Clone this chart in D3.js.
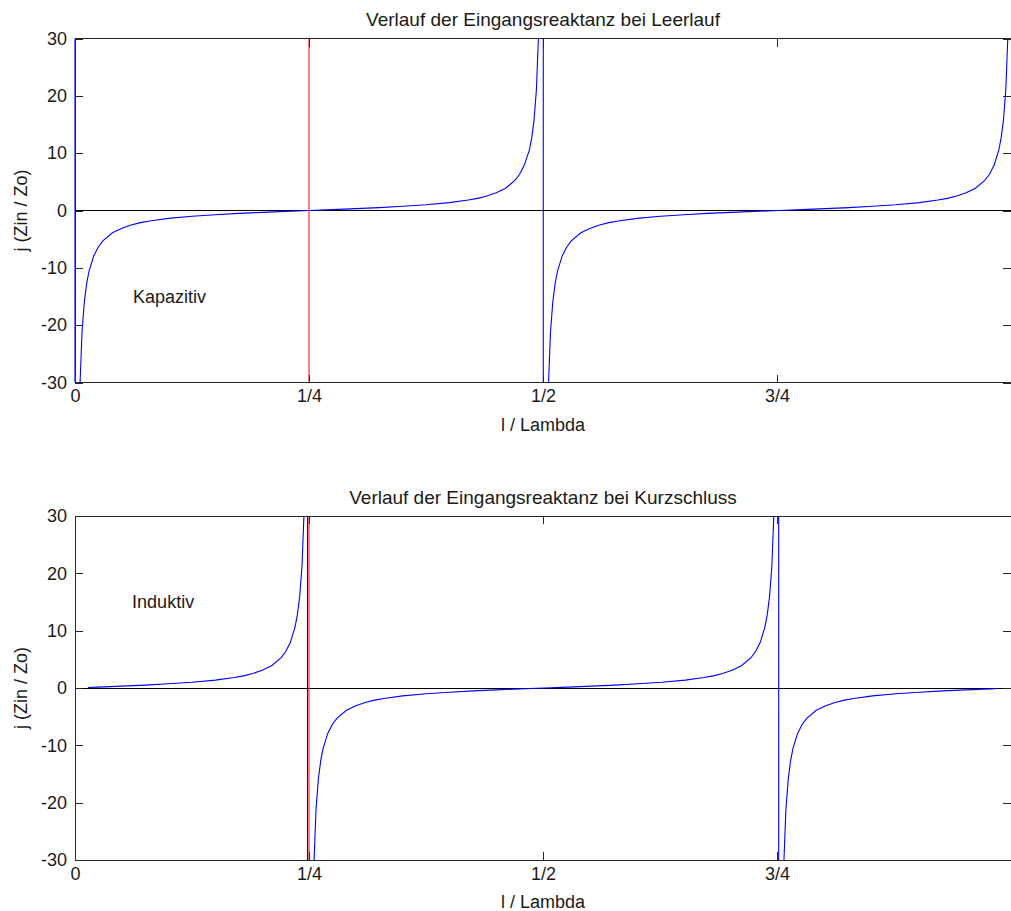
<!DOCTYPE html>
<html>
<head>
<meta charset="utf-8">
<script src="https://cdn.jsdelivr.net/npm/d3@7"></script>
<style>
  html, body { margin: 0; padding: 0; background: #ffffff; }
  svg { display: block; }
  text { font-family: "Liberation Sans", Arial, Helvetica, sans-serif; fill: #1a1a1a; }
</style>
</head>
<body>
<div id="chart"></div>
<script>
// ---- data ----
const xTicks = [0, 0.25, 0.5, 0.75];
const xTickLabels = ["0", "1/4", "1/2", "3/4"];
const yTicks = [-30, -20, -10, 0, 10, 20, 30];
const yTickLabels = ["-30", "-20", "-10", "0", "10", "20", "30"];

const titles = ["Verlauf der Eingangsreaktanz bei Leerlauf", "Verlauf der Eingangsreaktanz bei Kurzschluss"];
const xLabel = "l / Lambda";
const yLabel = "j (Zin / Zo)";
const notes = ["Kapazitiv", "Induktiv"];
const noteX = [0.062, 0.061];
const noteY = [-15, 15];

// Leerlauf (open circuit) – blue reactance curve; ±1e6 entries are the off-scale jumps at the poles
const leerlaufX = [0, 0, 0.005, 0.0075, 0.01, 0.0125, 0.015, 0.02, 0.025, 0.03, 0.04, 0.05, 0.06, 0.07, 0.08, 0.10, 0.125, 0.15, 0.175, 0.20, 0.225,
  0.25, 0.275, 0.30, 0.325, 0.35, 0.375, 0.40, 0.42, 0.43, 0.44, 0.45, 0.46, 0.47, 0.475, 0.48, 0.4855, 0.488, 0.4905, 0.493, 0.4955, 0.5003, 0.5003,
  0.5055, 0.508, 0.5105, 0.513, 0.5155, 0.5205, 0.5255, 0.5305, 0.5405, 0.5505, 0.5605, 0.5705, 0.5805, 0.6005, 0.6255, 0.6505, 0.6755, 0.7005, 0.7255,
  0.752, 0.777, 0.802, 0.827, 0.852, 0.877, 0.902, 0.922, 0.932, 0.942, 0.952, 0.962, 0.972, 0.977, 0.982, 0.987, 0.9895, 0.992, 0.9945, 0.997];
const leerlaufY = [1e6, -1e6, -31.82, -21.21, -15.89, -12.71, -10.58, -7.92, -6.31, -5.24, -3.89, -3.08, -2.53, -2.12, -1.82, -1.38, -1.00, -0.73, -0.51, -0.32, -0.16,
  0, 0.16, 0.32, 0.51, 0.73, 1.00, 1.38, 1.82, 2.12, 2.53, 3.08, 3.89, 5.24, 6.31, 7.92, 10.58, 12.71, 15.89, 21.21, 31.82, 1e6, -1e6,
  -31.82, -21.21, -15.89, -12.71, -10.58, -7.92, -6.31, -5.24, -3.89, -3.08, -2.53, -2.12, -1.82, -1.38, -1.00, -0.73, -0.51, -0.32, -0.16,
  0, 0.16, 0.32, 0.51, 0.73, 1.00, 1.38, 1.82, 2.12, 2.53, 3.08, 3.89, 5.24, 6.31, 7.92, 10.58, 12.71, 15.89, 21.21, 31.82];

// Kurzschluss (short circuit) – blue reactance curve
const kurzX = [0.014, 0.025, 0.05, 0.075, 0.10, 0.125, 0.15, 0.17, 0.18, 0.19, 0.20, 0.21, 0.22, 0.225, 0.23, 0.235, 0.2375, 0.24, 0.2425, 0.245, 0.2484, 0.2484,
  0.255, 0.2575, 0.26, 0.2625, 0.265, 0.27, 0.275, 0.28, 0.29, 0.30, 0.31, 0.32, 0.33, 0.35, 0.375, 0.40, 0.425, 0.45, 0.475,
  0.502, 0.527, 0.552, 0.577, 0.602, 0.627, 0.652, 0.672, 0.682, 0.692, 0.702, 0.712, 0.722, 0.727, 0.732, 0.737, 0.7395, 0.742, 0.7445, 0.747, 0.7518, 0.7518,
  0.757, 0.7595, 0.762, 0.7645, 0.767, 0.772, 0.777, 0.782, 0.792, 0.802, 0.812, 0.822, 0.832, 0.852, 0.877, 0.902, 0.927, 0.952, 0.977, 0.986];
const kurzY = [0.09, 0.16, 0.32, 0.51, 0.73, 1.00, 1.38, 1.82, 2.12, 2.53, 3.08, 3.89, 5.24, 6.31, 7.92, 10.58, 12.71, 15.89, 21.21, 31.82, 1e6, -1e6,
  -31.82, -21.21, -15.89, -12.71, -10.58, -7.92, -6.31, -5.24, -3.89, -3.08, -2.53, -2.12, -1.82, -1.38, -1.00, -0.73, -0.51, -0.32, -0.16,
  0, 0.16, 0.32, 0.51, 0.73, 1.00, 1.38, 1.82, 2.12, 2.53, 3.08, 3.89, 5.24, 6.31, 7.92, 10.58, 12.71, 15.89, 21.21, 31.82, 1e6, -1e6,
  -31.82, -21.21, -15.89, -12.71, -10.58, -7.92, -6.31, -5.24, -3.89, -3.08, -2.53, -2.12, -1.82, -1.38, -1.00, -0.73, -0.51, -0.32, -0.16, -0.09];

// red marker line at l = lambda/4
const markerX = [0.25];

// ---- drawing ----
const W = 1011, H = 911;
const svg = d3.select("#chart").append("svg").attr("width", W).attr("height", H);

const panels = [
  { top: 38.5, bottom: 382.5, xs: leerlaufX, ys: leerlaufY },
  { top: 516, bottom: 860, xs: kurzX, ys: kurzY }
];
const left = 75, right = 1011;
const FS = 18;

panels.forEach((p, i) => {
  const x = d3.scaleLinear().domain([0, 1]).range([left, right]);
  const y = d3.scaleLinear().domain([-30, 30]).range([p.bottom, p.top]);
  const g = svg.append("g");

  const clipId = "clip" + i;
  svg.append("clipPath").attr("id", clipId).append("rect")
    .attr("x", left - 1).attr("y", p.top).attr("width", right - left + 1).attr("height", p.bottom - p.top);

  // axes box
  g.append("rect").attr("x", left).attr("y", p.top).attr("width", right - left).attr("height", p.bottom - p.top)
    .attr("fill", "none").attr("stroke", "#262626").attr("stroke-width", 1).attr("shape-rendering", "crispEdges");

  const plot = g.append("g").attr("clip-path", `url(#${clipId})`);

  // zero line
  plot.append("line")
    .attr("x1", x(0)).attr("x2", x(1)).attr("y1", y(0)).attr("y2", y(0))
    .attr("stroke", "#000").attr("stroke-width", 1).attr("shape-rendering", "crispEdges");

  // blue curve
  const pts = p.xs.map((v, k) => [v, p.ys[k]]);
  const line = d3.line().x(d => x(d[0])).y(d => y(Math.max(-1e4, Math.min(1e4, d[1]))));
  plot.append("path").datum(pts).attr("d", line)
    .attr("fill", "none").attr("stroke", "#0000ff").attr("stroke-width", 1.1);

  // red marker
  plot.selectAll("line.marker").data(markerX).enter().append("line")
    .attr("class", "marker")
    .attr("x1", d => x(d)).attr("x2", d => x(d)).attr("y1", y(-30)).attr("y2", y(30))
    .attr("stroke", "#ff0000").attr("stroke-width", 1);

  // axes via d3 (ticks inward)
  const xAxisB = d3.axisBottom(x).tickValues(xTicks).tickFormat((d, k) => xTickLabels[k]).tickSizeInner(-8).tickSizeOuter(0).tickPadding(7);
  const xAxisT = d3.axisTop(x).tickValues(xTicks).tickFormat("").tickSizeInner(-8).tickSizeOuter(0);
  const yAxisL = d3.axisLeft(y).tickValues(yTicks).tickFormat((d, k) => yTickLabels[k]).tickSizeInner(-8).tickSizeOuter(0).tickPadding(8);
  const yAxisR = d3.axisRight(y).tickValues(yTicks).tickFormat("").tickSizeInner(-8).tickSizeOuter(0);

  const styleAxis = sel => {
    sel.select(".domain").remove();
    sel.selectAll(".tick line").attr("stroke", "#262626").attr("shape-rendering", "crispEdges");
    sel.selectAll(".tick text").attr("font-size", FS).attr("fill", "#1a1a1a")
      .attr("font-family", "'Liberation Sans', Arial, sans-serif");
  };
  g.append("g").attr("transform", `translate(0,${p.bottom})`).call(xAxisB).call(styleAxis);
  g.append("g").attr("transform", `translate(0,${p.top})`).call(xAxisT).call(styleAxis);
  g.append("g").attr("transform", `translate(${left},0)`).call(yAxisL).call(styleAxis);
  g.append("g").attr("transform", `translate(${right},0)`).call(yAxisR).call(styleAxis);

  // title
  g.append("text").attr("x", 543).attr("y", p.top - 19).attr("dy", "0.35em")
    .attr("text-anchor", "middle").attr("font-size", 19).text(titles[i]);
  // x label
  g.append("text").attr("x", 543).attr("y", p.bottom + 42).attr("dy", "0.35em")
    .attr("text-anchor", "middle").attr("font-size", FS).text(xLabel);
  // y label
  g.append("text").attr("transform", `translate(21,${(p.top + p.bottom) / 2}) rotate(-90)`).attr("dy", "0.35em")
    .attr("text-anchor", "middle").attr("font-size", FS).text(yLabel);
  // annotation
  g.append("text").attr("x", x(noteX[i])).attr("y", y(noteY[i])).attr("dy", "0.35em")
    .attr("text-anchor", "start").attr("font-size", FS).text(notes[i]);
});
</script>
</body>
</html>
